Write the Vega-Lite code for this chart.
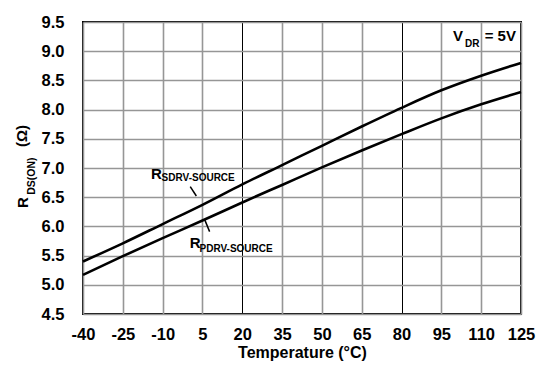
{
  "$schema": "https://vega.github.io/schema/vega-lite/v6.json",
  "width": 438,
  "height": 292,
  "autosize": "none",
  "padding": {"left": 83, "top": 22, "right": 27, "bottom": 51},
  "background": "white",
  "config": {
    "font": "Liberation Sans",
    "view": {"stroke": "black", "strokeWidth": 2},
    "axis": {
      "domain": false,
      "ticks": false,
      "labelFont": "Liberation Sans",
      "labelFontWeight": "bold",
      "labelFontSize": 16.5,
      "labelColor": "black",
      "titleFont": "Liberation Sans",
      "titleFontWeight": "bold",
      "titleFontSize": 16,
      "titleColor": "black"
    }
  },
  "datasets": {
    "curves": [
      {"series": "SDRV", "temp": -40, "r": 5.40},
      {"series": "SDRV", "temp": -25, "r": 5.71},
      {"series": "SDRV", "temp": -10, "r": 6.04},
      {"series": "SDRV", "temp": 5, "r": 6.37},
      {"series": "SDRV", "temp": 20, "r": 6.72},
      {"series": "SDRV", "temp": 35, "r": 7.05},
      {"series": "SDRV", "temp": 50, "r": 7.38},
      {"series": "SDRV", "temp": 65, "r": 7.71},
      {"series": "SDRV", "temp": 80, "r": 8.03},
      {"series": "SDRV", "temp": 95, "r": 8.33},
      {"series": "SDRV", "temp": 110, "r": 8.58},
      {"series": "SDRV", "temp": 125, "r": 8.80},
      {"series": "PDRV", "temp": -40, "r": 5.17},
      {"series": "PDRV", "temp": -25, "r": 5.49},
      {"series": "PDRV", "temp": -10, "r": 5.80},
      {"series": "PDRV", "temp": 5, "r": 6.10},
      {"series": "PDRV", "temp": 20, "r": 6.41},
      {"series": "PDRV", "temp": 35, "r": 6.71},
      {"series": "PDRV", "temp": 50, "r": 7.01},
      {"series": "PDRV", "temp": 65, "r": 7.30},
      {"series": "PDRV", "temp": 80, "r": 7.58},
      {"series": "PDRV", "temp": 95, "r": 7.85},
      {"series": "PDRV", "temp": 110, "r": 8.09},
      {"series": "PDRV", "temp": 125, "r": 8.30}
    ],
    "pointers": [
      {"temp": 0.4, "r": 6.68, "temp2": 2.7, "r2": 6.52},
      {"temp": 7.7, "r": 5.91, "temp2": 5.8, "r2": 6.12}
    ],
    "mainText": [
      {"temp": -14.4, "r": 6.81, "text": "R"},
      {"temp": 0.2, "r": 5.625, "text": "R"},
      {"temp": 99.4, "r": 9.175, "text": "V"},
      {"temp": 111.3, "r": 9.175, "text": "= 5V"}
    ],
    "subText": [
      {"temp": -10.4, "r": 6.77, "text": "SDRV-SOURCE"},
      {"temp": 3.9, "r": 5.556, "text": "PDRV-SOURCE"},
      {"temp": 103.9, "r": 9.07, "text": "DR"}
    ],
    "yTitleMain": [
      {"temp": -60.7, "r": 6.315, "text": "R"},
      {"temp": -61.1, "r": 7.36, "text": "(Ω)"}
    ],
    "yTitleSub": [
      {"temp": -57.9, "r": 6.54, "text": "DS(ON)"}
    ]
  },
  "encoding": {
    "x": {
      "field": "temp",
      "type": "quantitative",
      "scale": {"domain": [-40, 125], "nice": false, "zero": false},
      "axis": {
        "values": [-40, -25, -10, 5, 20, 35, 50, 65, 80, 95, 110, 125],
        "labelExpr": "'' + datum.value",
        "title": "Temperature (°C)",
        "labelPadding": 12,
        "titlePadding": 2,
        "labelFlush": false,
        "gridColor": {"condition": {"test": "datum.value === 20 || datum.value === 80", "value": "black"}, "value": "#969696"},
        "gridWidth": {"condition": {"test": "datum.value === 20 || datum.value === 80", "value": 1}, "value": 1.6}
      }
    },
    "y": {
      "field": "r",
      "type": "quantitative",
      "scale": {"domain": [4.5, 9.5], "nice": false, "zero": false},
      "axis": {
        "values": [4.5, 5, 5.5, 6, 6.5, 7, 7.5, 8, 8.5, 9, 9.5],
        "format": ".1f",
        "title": null,
        "labelPadding": 19,
        "gridColor": "#969696",
        "gridWidth": 1.6
      }
    }
  },
  "layer": [
    {
      "data": {"name": "curves"},
      "mark": {"type": "line", "interpolate": "monotone", "color": "black", "strokeWidth": 2.6},
      "encoding": {"detail": {"field": "series"}}
    },
    {
      "data": {"name": "pointers"},
      "mark": {"type": "rule", "color": "black", "strokeWidth": 1.5},
      "encoding": {"x2": {"field": "temp2"}, "y2": {"field": "r2"}}
    },
    {
      "data": {"name": "mainText"},
      "mark": {"type": "text", "align": "left", "baseline": "alphabetic", "fontSize": 15, "fontWeight": "bold", "color": "black"},
      "encoding": {"text": {"field": "text"}}
    },
    {
      "data": {"name": "subText"},
      "mark": {"type": "text", "align": "left", "baseline": "alphabetic", "fontSize": 10, "fontWeight": "bold", "color": "black"},
      "encoding": {"text": {"field": "text"}}
    },
    {
      "data": {"name": "yTitleMain"},
      "mark": {"type": "text", "align": "left", "baseline": "alphabetic", "angle": 270, "fontSize": 15, "fontWeight": "bold", "color": "black"},
      "encoding": {"text": {"field": "text"}}
    },
    {
      "data": {"name": "yTitleSub"},
      "mark": {"type": "text", "align": "left", "baseline": "alphabetic", "angle": 270, "fontSize": 10.5, "fontWeight": "bold", "color": "black"},
      "encoding": {"text": {"field": "text"}}
    }
  ]
}
